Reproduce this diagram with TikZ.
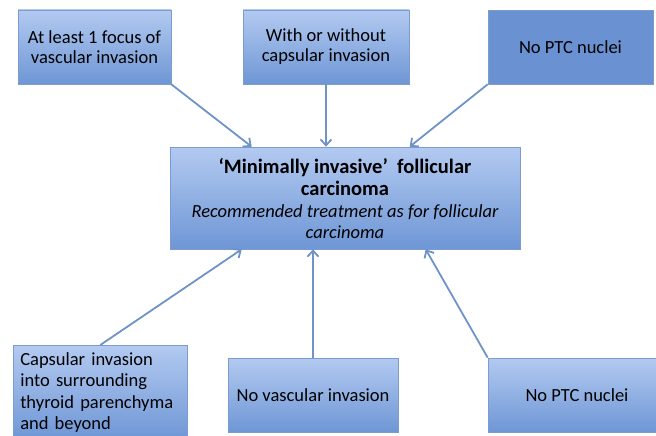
\documentclass[tikz,border=0pt]{standalone}
\usepackage{fontspec}
\setmainfont{Carlito}
\usetikzlibrary{arrows.meta}
\definecolor{boxtop}{HTML}{B3CAF1}
\definecolor{boxbot}{HTML}{6E96D5}
\definecolor{boxflat}{HTML}{6A92D3}
\definecolor{boxline}{HTML}{7C9BD0}
\definecolor{arrowblue}{HTML}{6F93C9}
\begin{document}
\begin{tikzpicture}[x=1pt, y=-1pt,
          box/.style={draw=boxline, line width=0.6pt, top color=boxtop, bottom color=boxbot,
              align=center, font=\fontsize{18.5}{20}\selectfont, minimum height=74pt, inner sep=4pt},
          flat box/.style={draw=boxline, line width=0.6pt, fill=boxflat,
              align=center, font=\fontsize{18.5}{20}\selectfont, minimum height=74pt, inner sep=4pt},
          link/.style={arrowblue, line width=1.8pt, -{Straight Barb[length=6pt, width=11pt]}}]
          \useasboundingbox (0,0) rectangle (656,436);
          % top row
          \node[box, minimum width=153pt] (focus) at (94.5,47) {At least 1 focus of\\ vascular invasion};
          \node[box, minimum width=166pt] (capsule) at (326,47) {With or without\\ capsular invasion};
          \node[flat box, minimum width=165pt] (ptctop) at (570.5,47) {No PTC nuclei};
          % centre
          \node[box, minimum width=350pt, minimum height=102pt, inner sep=2pt, font=\fontsize{18.5}{22}\selectfont] (main) at (345,198)
              {{\bfseries\fontsize{20.5}{24}\selectfont ‘Minimally invasive’\ \ follicular}\\
               {\bfseries\fontsize{20.5}{24}\selectfont carcinoma}\\
               {\itshape Recommended treatment as for follicular}\\[-1pt]
               {\itshape carcinoma}};
          % bottom row
          \node[box, anchor=north west, align=left, text width=160pt, inner xsep=7pt, inner ysep=7pt,
              font=\fontsize{18.5}{21.6}\selectfont] (beyond) at (13,345)
              {Capsular invasion\\ into surrounding\\ thyroid parenchyma\\ and beyond};
          \node[box, minimum width=170pt] (novasc) at (313,395) {No vascular invasion};
          \node[box, minimum width=178pt] (ptcbot) at (577,395) {No PTC nuclei};
          % arrows
          \draw[link] (focus.south east) -- ([xshift=82pt]main.north west);
          \draw[link] (capsule.south) -- (capsule.south |- main.north);
          \draw[link] (ptctop.south west) -- ([xshift=240pt]main.north west);
          \draw[link] (beyond.north) -- ([xshift=72pt]main.south west);
          \draw[link] (novasc.north) -- (novasc.north |- main.south);
          \draw[link] (ptcbot.north west) -- ([xshift=256pt]main.south west);
\end{tikzpicture}
\end{document}
